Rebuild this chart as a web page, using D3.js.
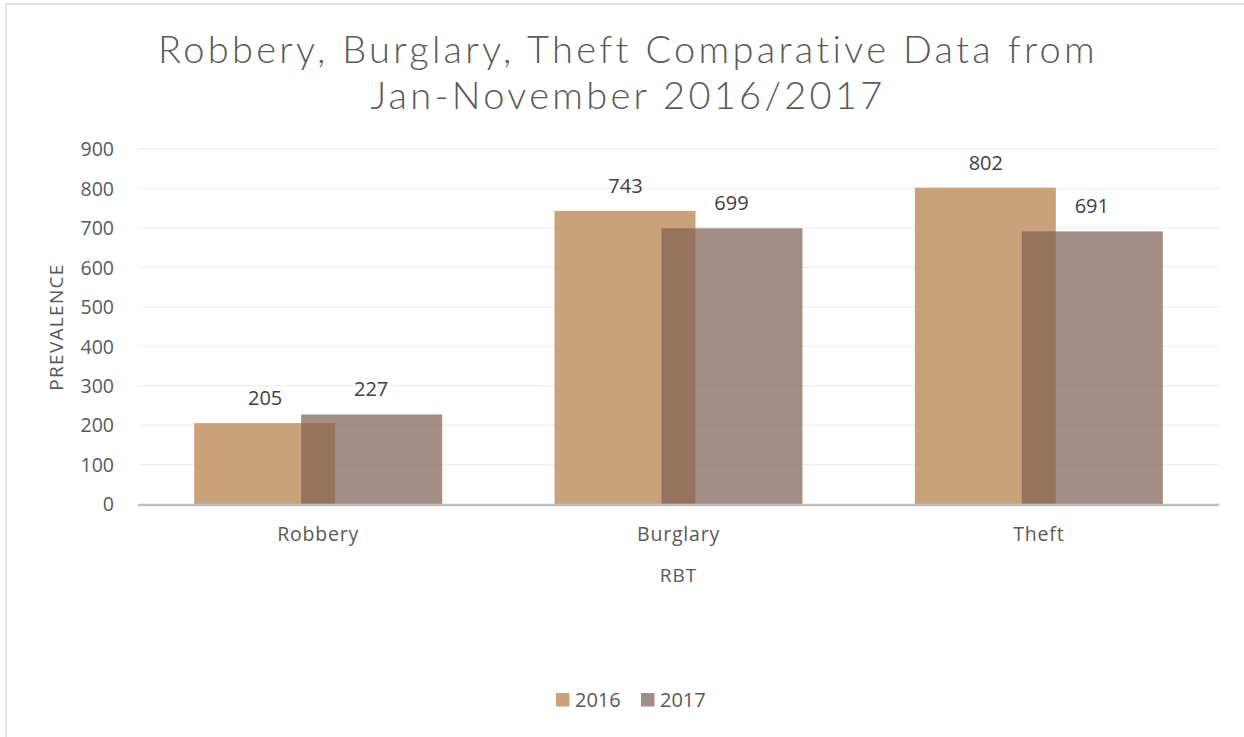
<!DOCTYPE html>
<html><head><meta charset="utf-8">
<script src="https://cdn.jsdelivr.net/npm/d3@7"></script>
<style>body{margin:0;background:#fff}svg{display:block}</style>
</head><body>
<svg id="c" width="1244" height="737"></svg>
<script>
const categories = ["Robbery", "Burglary", "Theft"];
const seriesNames = ["2016", "2017"];
const values2016 = [205, 743, 802];
const values2017 = [227, 699, 691];
const yTicks = [0, 100, 200, 300, 400, 500, 600, 700, 800, 900];
const titleLines = ["Robbery, Burglary, Theft Comparative Data from", "Jan-November 2016/2017"];

const svg = d3.select("#c");
const W = 1244, H = 737;
const m = {l: 138, r: 1219, t: 149, b: 504};
const colors = {"2016": "rgb(201,161,123)", "2017": "rgba(129,97,85,0.72)"};
const legendColors = {"2016": "rgb(201,161,123)", "2017": "rgb(164,141,132)"};
const F = "Open Sans, sans-serif";

// chart border
svg.append("rect").attr("x", 6).attr("y", 4).attr("width", W + 10).attr("height", H + 10)
  .attr("fill", "#fff").attr("stroke", "#d9d9d9").attr("stroke-width", 1.5);

const x = d3.scaleBand().domain(categories).range([m.l, m.r]).paddingInner(0).paddingOuter(0);
const y = d3.scaleLinear().domain([0, 900]).range([m.b, m.t]);

// gridlines
svg.append("g").selectAll("line").data(yTicks.filter(d => d > 0)).join("line")
  .attr("x1", m.l).attr("x2", m.r).attr("y1", d => y(d)).attr("y2", d => y(d))
  .attr("stroke", "#efefef").attr("stroke-width", 1.3);

// y axis labels
const yAxis = d3.axisLeft(y).tickValues(yTicks).tickSize(0).tickPadding(0);
const gy = svg.append("g").attr("transform", `translate(${m.l - 24},0)`).call(yAxis);
gy.select(".domain").remove();
gy.selectAll("text").attr("font-family", F).attr("font-size", 19.5)
  .attr("fill", "#595959").attr("dy", "0.35em");

const bw = 141, off = 53;
const bars = svg.append("g");
const data = categories.map((c, i) => ({c, v: [values2016[i], values2017[i]]}));
[0, 1].forEach(s => {
  bars.selectAll(".b" + s).data(data).join("rect").attr("class", "b" + s)
    .attr("x", d => x(d.c) + x.bandwidth() / 2 + (s === 0 ? -off - bw / 2 - 0.5 : off - bw / 2 + 0.5))
    .attr("width", bw)
    .attr("y", d => y(d.v[s])).attr("height", d => y(0) - y(d.v[s]))
    .attr("fill", colors[seriesNames[s]]);
  bars.selectAll(".l" + s).data(data).join("text").attr("class", "l" + s)
    .attr("x", d => x(d.c) + x.bandwidth() / 2 + (s === 0 ? -off : off))
    .attr("y", d => y(d.v[s]) - 18)
    .attr("text-anchor", "middle").attr("font-family", F).attr("font-size", 20)
    .attr("fill", "#404040").text(d => d.v[s]);
});

// x axis
svg.append("line").attr("x1", m.l).attr("x2", m.r).attr("y1", m.b + 1).attr("y2", m.b + 1)
  .attr("stroke", "#bfbfbf").attr("stroke-width", 2.5);
const xAxis = d3.axisBottom(x).tickSize(0).tickPadding(0);
const gx = svg.append("g").attr("transform", `translate(0,${m.b})`).call(xAxis);
gx.select(".domain").remove();
gx.selectAll("text").attr("font-family", F).attr("font-size", 19.5)
  .attr("fill", "#595959").attr("dy", 0).attr("y", 37).style("letter-spacing", "0.8px");

// axis titles
svg.append("text").attr("x", x("Burglary") + x.bandwidth() / 2).attr("y", 582).attr("text-anchor", "middle")
  .attr("font-family", F).attr("font-size", 19).attr("fill", "#595959").style("letter-spacing", "1px").text("RBT");
svg.append("text").attr("transform", "translate(63,327) rotate(-90)").attr("text-anchor", "middle")
  .attr("font-family", F).attr("font-size", 19).attr("fill", "#595959").style("letter-spacing", "1.3px").text("PREVALENCE");

// title
svg.append("g").selectAll("text").data(titleLines).join("text")
  .attr("x", 628).attr("y", (d, i) => 63 + i * 46).attr("text-anchor", "middle")
  .attr("font-family", "Lato, sans-serif").attr("font-weight", 300).attr("font-size", 38)
  .attr("fill", "#595959").style("letter-spacing", "3.3px").text(d => d);

// legend
const lg = svg.append("g");
const lx = [556, 641];
seriesNames.forEach((s, i) => {
  lg.append("rect").attr("x", lx[i]).attr("y", 693).attr("width", 13.5).attr("height", 13.5).attr("fill", legendColors[s]);
  lg.append("text").attr("x", lx[i] + 19).attr("y", 707).attr("font-family", F)
    .attr("font-size", 20).attr("fill", "#595959").text(s);
});
</script>
</body></html>
